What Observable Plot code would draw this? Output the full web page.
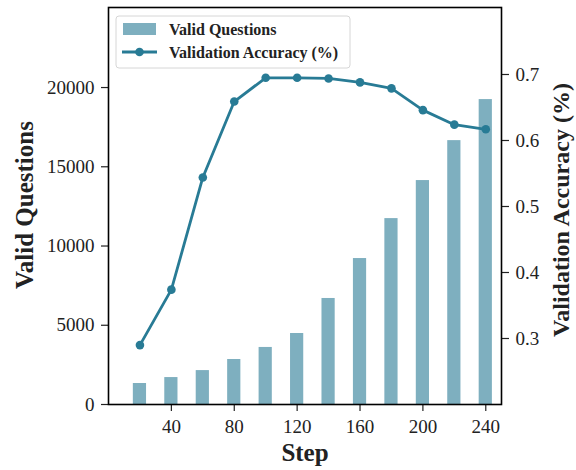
<!DOCTYPE html>
<html>
<head>
<meta charset="utf-8">
<script src="https://cdn.jsdelivr.net/npm/d3@7"></script>
<script src="https://cdn.jsdelivr.net/npm/@observablehq/plot@0.6"></script>
<style>
  html, body { margin: 0; padding: 0; background: #fff; }
  #chart { position: relative; width: 576px; height: 470px; }
</style>
</head>
<body>
<div id="chart"></div>
<script>
// ---- data ----
const steps = [20, 40, 60, 80, 100, 120, 140, 160, 180, 200, 220, 240];
const validQuestions = [1325, 1700, 2140, 2840, 3600, 4480, 6690, 9210, 11730, 14130, 16650, 19240];
const validationAccuracy = [0.290, 0.374, 0.544, 0.659, 0.695, 0.695, 0.694, 0.688, 0.679, 0.646, 0.624, 0.617];
const leftTicks = [0, 5000, 10000, 15000, 20000];
const rightTicks = [0.3, 0.4, 0.5, 0.6, 0.7];
const xTicks = [40, 80, 120, 160, 200, 240];

const rows = steps.map((s, i) => ({step: s, valid: validQuestions[i], acc: validationAccuracy[i]}));

// ---- dual axis mapping ----
const leftDomain = [0, 25050];
const rightDomain = [0.2, 0.8015];
const accToY = d3.scaleLinear(rightDomain, leftDomain);

const FONT = '"Liberation Serif", "Times New Roman", serif';
const TXT = "#222";
const BAR = "#7eafbf";
const LINE = "#287b95";
const barHalf = 4.2;

const plot = Plot.plot({
  width: 576,
  height: 470,
  marginLeft: 108,
  marginRight: 75,
  marginTop: 7,
  marginBottom: 66,
  style: {fontFamily: FONT, fontSize: "19px", color: TXT, background: "#fff", overflow: "visible"},
  x: {domain: [0, 250], label: null},
  y: {domain: leftDomain, label: null},
  marks: [
    Plot.rectY(rows, {x1: d => d.step - barHalf, x2: d => d.step + barHalf, y1: 0, y2: "valid", fill: BAR}),
    Plot.line(rows, {x: "step", y: d => accToY(d.acc), stroke: LINE, strokeWidth: 2.8}),
    Plot.dot(rows, {x: "step", y: d => accToY(d.acc), fill: LINE, r: 4.3}),
    Plot.axisX({ticks: xTicks, tickSize: 7, tickPadding: 8, tickFormat: d3.format("d"), label: null, stroke: TXT, strokeWidth: 1.2}),
    Plot.axisY({ticks: leftTicks, tickSize: 7, tickPadding: 7, tickFormat: d3.format("d"), label: null, stroke: TXT, strokeWidth: 1.2}),
    Plot.axisY({anchor: "right", ticks: rightTicks.map(v => accToY(v)), tickSize: 7, tickPadding: 7,
      tickFormat: d => d3.format(".1f")(accToY.invert(d)), label: null, stroke: TXT, strokeWidth: 1.2}),
    Plot.frame({stroke: "#000", strokeWidth: 1.6})
  ]
});
document.getElementById("chart").appendChild(plot);

// ---- axis titles and legend ----
const svg = d3.select(plot);
const titleStyle = s => s.attr("font-family", FONT).attr("font-weight", "bold").attr("font-size", 25).attr("fill", TXT);

svg.append("text").call(titleStyle)
  .attr("text-anchor", "middle")
  .attr("transform", "translate(33,205) rotate(-90)")
  .text("Valid Questions");

svg.append("text").call(titleStyle)
  .attr("font-size", 24)
  .attr("text-anchor", "middle")
  .attr("transform", "translate(569,210) rotate(-90)")
  .text("Validation Accuracy (%)");

svg.append("text").call(titleStyle)
  .attr("text-anchor", "middle")
  .attr("x", 305).attr("y", 461)
  .text("Step");

const lg = svg.append("g");
lg.append("rect").attr("x", 116).attr("y", 16).attr("width", 234).attr("height", 52)
  .attr("rx", 3).attr("fill", "#fff").attr("fill-opacity", 0.85).attr("stroke", "#d6d6d6").attr("stroke-width", 1);
lg.append("rect").attr("x", 123).attr("y", 23).attr("width", 33).attr("height", 12).attr("fill", BAR);
lg.append("line").attr("x1", 122).attr("x2", 157).attr("y1", 52).attr("y2", 52)
  .attr("stroke", LINE).attr("stroke-width", 2.8);
lg.append("circle").attr("cx", 139.5).attr("cy", 52).attr("r", 4.3).attr("fill", LINE);
const legendText = s => s.attr("font-family", FONT).attr("font-weight", "bold").attr("font-size", 16)
  .attr("fill", TXT).attr("text-anchor", "start");
lg.append("text").call(legendText).attr("x", 169).attr("y", 34.5).text("Valid Questions");
lg.append("text").call(legendText).attr("x", 169).attr("y", 57.5).text("Validation Accuracy (%)");
</script>
</body>
</html>
